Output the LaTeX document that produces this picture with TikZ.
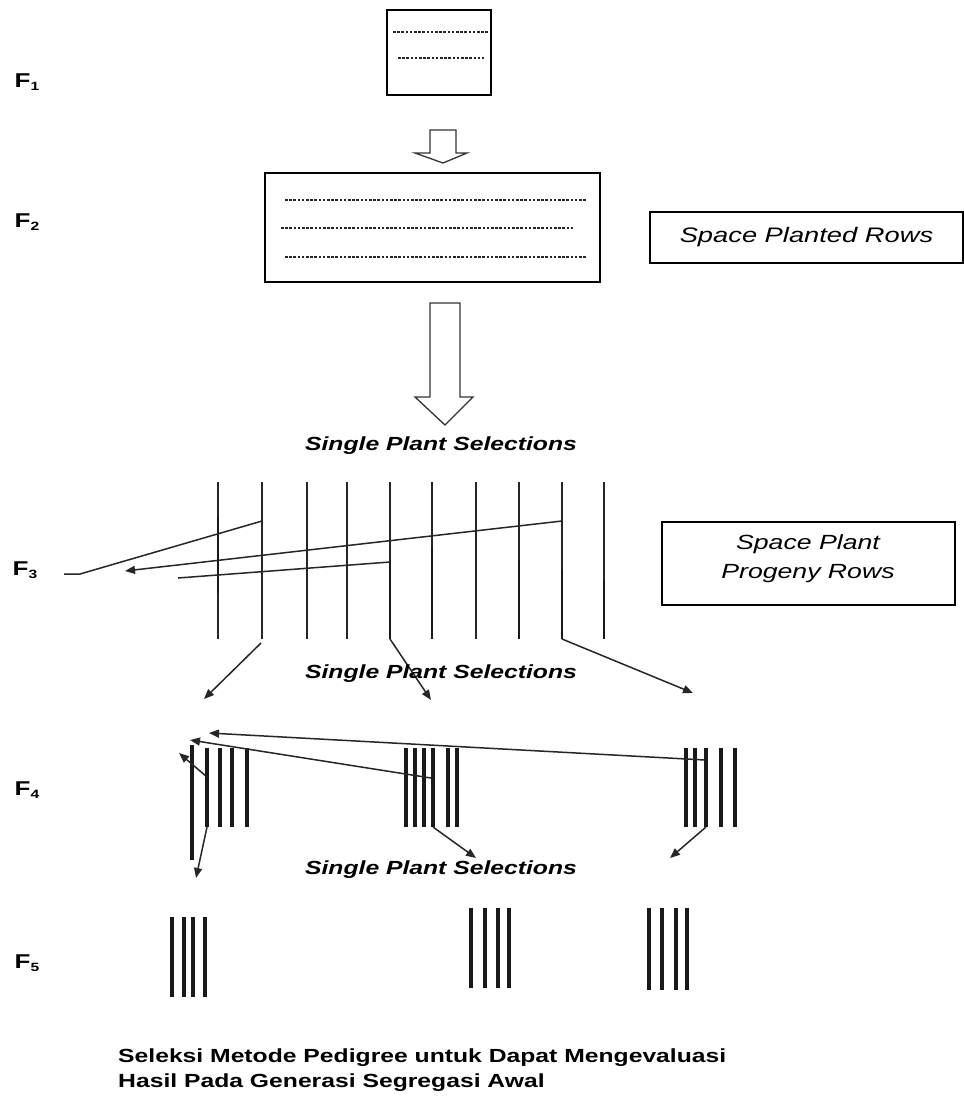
\documentclass[tikz,border=0pt]{standalone}
\usepackage{fontspec}
\setmainfont{Liberation Sans}
\newfontfamily\wfont[FakeStretch=1.3]{Liberation Sans}
\usetikzlibrary{arrows.meta}
\tikzset{
  box/.style={draw=black, line width=2.8pt, inner sep=0pt},
  dots/.style={line width=2pt, dash pattern=on 2.6pt off 1.6pt, black!85},
  hollow/.style={draw=black!80, line width=1.3pt, fill=white, line join=miter},
  rowA/.style={line width=1.8pt, black!85},
  rowB/.style={line width=2.6pt, black!90},
  rowC/.style={line width=3.2pt, black!90},
  sel/.style={line width=1.5pt, black!85, -{Triangle[length=10pt,width=8pt]}},
  selline/.style={line width=1.5pt, black!85},
  lbl/.style={font=\wfont\bfseries\fontsize{20}{22}\selectfont, inner sep=0pt},
  spsel/.style={font=\wfont\bfseries\itshape\fontsize{19}{22}\selectfont, inner sep=0pt},
  boxtxt/.style={font=\wfont\itshape\fontsize{20.5}{29}\selectfont, align=center, inner sep=0pt},
  captxt/.style={font=\wfont\bfseries\fontsize{19}{25}\selectfont, inner sep=0pt, anchor=base west},
}
\newcommand{\sbs}[1]{\raisebox{-3pt}{\fontsize{12}{12}\selectfont #1}}
\begin{document}
\begin{tikzpicture}[x=1pt,y=-1pt]
\useasboundingbox (0,0) rectangle (964,1109);
\fill[white] (0,0) rectangle (964,1109);

% generation labels
\node[lbl] (F1) at (27,82) {F\sbs{1}};
\node[lbl] (F2) at (27,222) {F\sbs{2}};
\node[lbl] (F3) at (25,570) {F\sbs{3}};
\node[lbl] (F4) at (27,790) {F\sbs{4}};
\node[lbl] (F5) at (27,963) {F\sbs{5}};

% F1 box
\node[box, minimum width=104pt, minimum height=85pt] (b1) at (439,52.5) {};
\draw[dots] (393,32) -- (489,32);
\draw[dots] (398,58) -- (484,58);

% small hollow arrow
\draw[hollow] (430,130) -- (456,130) -- (456,153) -- (467,153) -- (443,163) -- (415,153) -- (430,153) -- cycle;

% F2 box
\node[box, minimum width=335pt, minimum height=109pt] (b2) at (432.5,227.5) {};
\draw[dots] (285,200) -- (587,200);
\draw[dots] (281,228) -- (574,228);
\draw[dots] (285,257) -- (587,257);

% Space Planted Rows
\node[box, minimum width=313pt, minimum height=51pt, font=\wfont\itshape\fontsize{21}{24}\selectfont] (spr) at (806.5,237.5) {Space Planted Rows};

% big hollow arrow
\draw[hollow] (430,303) -- (460,303) -- (460,397) -- (473,397) -- (445,425) -- (415,397) -- (430,397) -- cycle;

\node[spsel] (sps1) at (441,446) {Single Plant Selections};

% F3 rows
\foreach \i/\x in {1/218,2/262,3/307,4/347,5/390,6/432,7/476,8/519,9/562,10/604}{
  \coordinate (t\i) at (\x,482);
  \coordinate (b\i) at (\x,639);
  \draw[rowA] (t\i) -- (b\i);
}
\draw[rowB] (218,517) -- (218,593);
\draw[rowB] (390,560) -- (390,639);
\draw[rowB] (432,547) -- (432,639);
\draw[rowB] (519,560) -- (519,639);
\draw[rowB] (562,570) -- (562,639);
\draw[rowB] (604,580) -- (604,639);

% Space Plant Progeny Rows
\node[box, minimum width=293pt, minimum height=83pt] (spp) at (808.5,563.5) {};
\node[boxtxt] (spptxt) at (808,559) {Space Plant\\Progeny Rows};

% F3 selections to the left
\coordinate (s2) at (262,521);
\coordinate (s9) at (562,521);
\coordinate (s5) at (390,562);
\coordinate (e2) at (80,574);
\coordinate (e2b) at (64,574);
\coordinate (e9) at (125,571);
\coordinate (e5) at (178,578);
\draw[selline] (s2) -- (e2) -- (e2b);
\draw[sel] (s9) -- (e9);
\draw[selline] (s5) -- (e5);

% F3 down arrows
\coordinate (d2) at (204,699);
\coordinate (d5) at (431,700);
\coordinate (d9) at (693,693);
\draw[sel] (261,643) -- (d2);
\draw[sel] (b5) -- (d5);
\draw[sel] (b9) -- (d9);

\node[spsel] (sps2) at (441,674) {Single Plant Selections};

% F4 rows
\draw[rowC] (192,745) -- (192,860);
\foreach \x in {207,220,232,247}{\draw[rowC] (\x,748) -- (\x,827);}
\foreach \x in {406,415,424,433,448,457}{\draw[rowC] (\x,748) -- (\x,827);}
\foreach \x in {686,695,706,721,735}{\draw[rowC] (\x,748) -- (\x,827);}

% F4 selections
\coordinate (ra) at (705,760);
\coordinate (ma) at (431,778);
\coordinate (la) at (207,777);
\coordinate (ta) at (209,733);
\coordinate (tb) at (190,740);
\coordinate (tc) at (179,753);
\draw[sel] (ra) -- (ta);
\draw[sel] (ma) -- (tb);
\draw[sel] (la) -- (tc);

\coordinate (lb) at (207,827);
\coordinate (mb) at (433,827);
\coordinate (rb) at (706,827);
\draw[sel] (lb) -- (196,878);
\draw[sel] (mb) -- (476,858);
\draw[sel] (rb) -- (670,858);

\node[spsel] (sps3) at (441,870) {Single Plant Selections};

% F5 rows
\foreach \x in {172,184,193,205}{\draw[rowC] (\x,917) -- (\x,997);}
\foreach \x in {471,485,498,509}{\draw[rowC] (\x,908) -- (\x,988);}
\foreach \x in {649,662,676,687}{\draw[rowC] (\x,908) -- (\x,990);}

% caption
\node[captxt] (cap1) at (118,1062) {Seleksi Metode Pedigree untuk Dapat Mengevaluasi};
\node[captxt] (cap2) at (118,1087) {Hasil Pada Generasi Segregasi Awal};
\end{tikzpicture}
\end{document}
